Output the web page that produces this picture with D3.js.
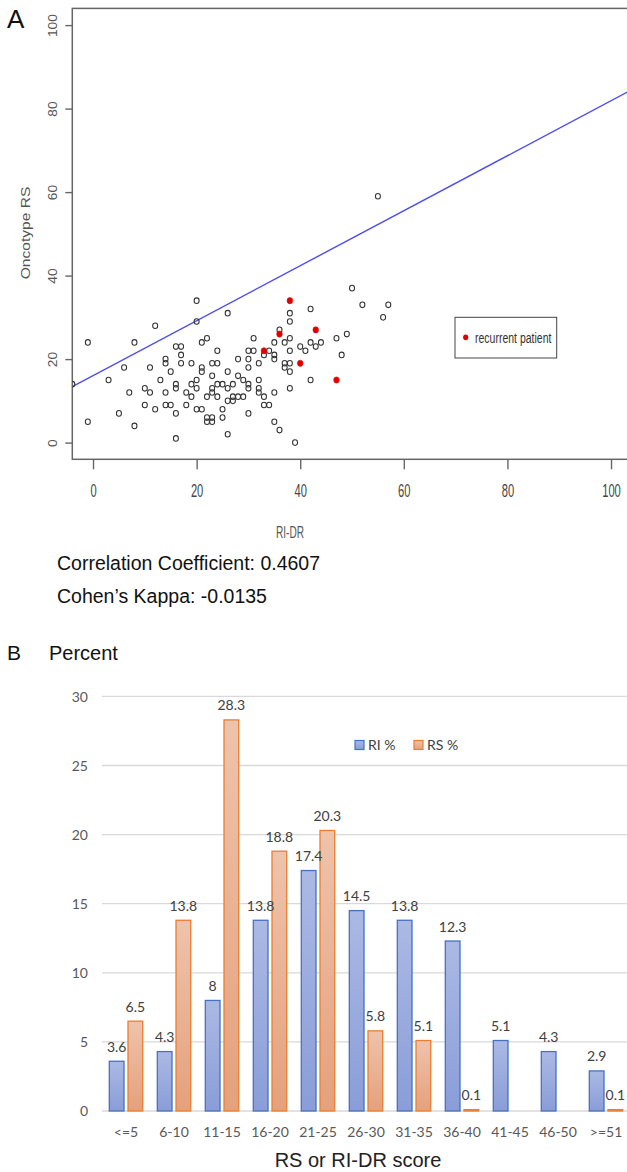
<!DOCTYPE html>
<html><head><meta charset="utf-8">
<script src="https://cdn.jsdelivr.net/npm/d3@7"></script>
<style>
html,body{margin:0;padding:0;background:#fff;}
svg{display:block;}
</style></head>
<body>
<svg id="chart" width="627" height="1172"></svg>
<script>
// ---------- Panel A data ----------
const patientRI = [-4,-1,-1,3,5,6,7,8,8,10,10,11,11,12,12,13,14,14,14,14,15,15,16,16,16,16,16,17,17,17,18,18,19,19,19,20,20,20,20,20,21,21,21,21,22,22,22,22,23,23,23,23,23,23,24,24,24,24,25,25,25,26,26,26,26,26,27,27,27,28,28,28,29,29,30,30,30,30,30,30,31,31,32,32,32,32,33,33,33,34,34,35,35,35,35,35,36,36,37,37,37,38,38,38,38,38,38,38,39,40,41,42,42,42,43,44,47,48,49,50,52,55,56,57];
const patientRS = [14,24,5,15,7,18,12,24,4,13,9,12,18,28,8,15,20,19,12,9,9,17,23,14,13,7,1,23,21,19,12,9,19,14,11,34,29,15,13,8,24,18,17,8,25,11,6,5,19,16,13,12,6,5,22,19,14,11,14,8,6,31,17,13,10,2,14,11,10,20,16,11,15,11,22,20,18,14,13,7,25,22,19,15,13,12,21,11,9,22,9,24,21,20,12,5,27,3,24,19,18,31,29,25,22,19,17,13,0,23,22,32,24,15,23,24,25,21,26,37,33,59,30,33];
const recurrentRI = [33,36,38,40,43,47];
const recurrentRS = [22,26,34,19,27,15];
const fitRI = [-4,104];
const fitRS = [13.4,84.5];
const axisTicksA = [0,20,40,60,80,100];

// ---------- Panel B data ----------
const categories = ["<=5","6-10","11-15","16-20","21-25","26-30","31-35","36-40","41-45","46-50",">=51"];
const riPercent = [3.6,4.3,8,13.8,17.4,14.5,13.8,12.3,5.1,4.3,2.9];
const rsPercent = [6.5,13.8,28.3,18.8,20.3,5.8,5.1,0.1,null,null,0.1];
const seriesNames = ["RI %","RS %"];
const yTicksB = [0,5,10,15,20,25,30];

const svg = d3.select("#chart");
const ARIAL = "'Liberation Sans', Arial, sans-serif";
const LATO = "Lato, 'Open Sans', sans-serif";

// ================= PANEL A =================
const xA = d3.scaleLinear().domain([-4,104]).range([72.3, 72.3 + 108*5.18]);
const yA = d3.scaleLinear().domain([-4,104]).range([459.3, 8.4]);

const defs = svg.append("defs");
defs.append("clipPath").attr("id","plotclip").append("rect")
  .attr("x", xA(-4)).attr("y", yA(104)).attr("width", xA(104)-xA(-4)).attr("height", yA(-4)-yA(104));

const gA = svg.append("g");

const xAxisA = gA.append("g").attr("transform",`translate(0,${yA(-4)})`)
  .call(d3.axisBottom(xA).tickValues(axisTicksA).tickSize(10).tickSizeOuter(0));
xAxisA.select(".domain").remove();
xAxisA.selectAll(".tick line").attr("stroke","#666").attr("stroke-width",1.4);
xAxisA.selectAll(".tick text")
  .attr("y",37.4).attr("dy",null)
  .attr("font-family",ARIAL).attr("font-size",18).attr("fill","#444")
  .attr("transform","scale(0.62,1)");

const yAxisA = gA.append("g").attr("transform",`translate(${xA(-4)},0)`)
  .call(d3.axisLeft(yA).tickValues(axisTicksA).tickSize(7).tickSizeOuter(0));
yAxisA.select(".domain").remove();
yAxisA.selectAll(".tick line").attr("stroke","#666").attr("stroke-width",1.4);
yAxisA.selectAll(".tick text")
  .attr("x",null).attr("dy",null).attr("text-anchor","middle")
  .attr("font-family",ARIAL).attr("font-size",12.5).attr("fill","#555")
  .attr("transform","translate(-15.6,0) rotate(-90) scale(1.1,1)");

gA.append("rect")
  .attr("x", xA(-4)).attr("y", yA(104))
  .attr("width", xA(104)-xA(-4)).attr("height", yA(-4)-yA(104))
  .attr("fill","none").attr("stroke","#666").attr("stroke-width",1.5);

const plot = gA.append("g").attr("clip-path","url(#plotclip)");

plot.append("path")
  .datum(fitRI.map((d,i)=>[d,fitRS[i]]))
  .attr("d", d3.line().x(d=>xA(d[0])).y(d=>yA(d[1])))
  .attr("stroke","#4d4df2").attr("stroke-width",1.4).attr("fill","none");

plot.selectAll("ellipse.pt").data(patientRI.map((d,i)=>[d,patientRS[i]])).join("ellipse")
  .attr("class","pt")
  .attr("cx",d=>xA(d[0])).attr("cy",d=>yA(d[1])).attr("rx",2.5).attr("ry",2.8)
  .attr("fill","none").attr("stroke","#333").attr("stroke-width",1.05);
plot.selectAll("ellipse.rec").data(recurrentRI.map((d,i)=>[d,recurrentRS[i]])).join("ellipse")
  .attr("class","rec")
  .attr("cx",d=>xA(d[0])).attr("cy",d=>yA(d[1])).attr("rx",2.8).attr("ry",3.1)
  .attr("fill","#e00000").attr("stroke","#e00000").attr("stroke-width",0.6);

gA.append("rect").attr("x",455).attr("y",317.3).attr("width",101.7).attr("height",40.7)
  .attr("fill","#fff").attr("stroke","#444").attr("stroke-width",1);
gA.append("ellipse").attr("cx",465.7).attr("cy",337.3).attr("rx",2.6).attr("ry",2.9).attr("fill","#e00000");
gA.append("text").attr("transform","translate(475,343.3) scale(0.7,1)")
  .attr("font-family",ARIAL).attr("font-size",15).attr("fill","#333").text("recurrent patient");

gA.append("text").attr("transform","translate(290,538) scale(0.63,1)")
  .attr("text-anchor","middle").attr("font-family",ARIAL).attr("font-size",16).attr("fill","#555").text("RI-DR");
gA.append("text").attr("transform","translate(29.5,233) rotate(-90) scale(1.3,1)")
  .attr("text-anchor","middle").attr("font-family",ARIAL).attr("font-size",12).attr("fill","#555").text("Oncotype RS");

svg.append("text").attr("x",7).attr("y",28).attr("font-family",ARIAL).attr("font-size",26).attr("fill","#111").text("A");

svg.append("text").attr("x",57).attr("y",570).attr("font-family",ARIAL).attr("font-size",19.5).attr("fill","#111")
  .text("Correlation Coefficient: 0.4607");
svg.append("text").attr("x",57).attr("y",603).attr("font-family",ARIAL).attr("font-size",19.5).attr("fill","#111")
  .text("Cohen\u2019s Kappa: -0.0135");

// ================= PANEL B =================
svg.append("text").attr("x",7).attr("y",660).attr("font-family",ARIAL).attr("font-size",21).attr("fill","#111").text("B");
svg.append("text").attr("x",49).attr("y",660).attr("font-family",ARIAL).attr("font-size",20).attr("fill","#111").text("Percent");

const yB = d3.scaleLinear().domain([0,30]).range([1111, 696.4]);
const x0 = d3.scaleBand().domain(categories).range([102,630]).paddingInner(0).paddingOuter(0);
const x1 = d3.scaleBand().domain(seriesNames).range([7.3, 40.7]).paddingInner(0.214).paddingOuter(0);

const gB = svg.append("g");

gB.selectAll("line.grid").data(yTicksB).join("line")
  .attr("class","grid")
  .attr("x1",102).attr("x2",627)
  .attr("y1",d=>yB(d)).attr("y2",d=>yB(d))
  .attr("stroke","#d9d9d9").attr("stroke-width",1.3);

const yAxisB = gB.append("g").attr("transform","translate(88,0)")
  .call(d3.axisLeft(yB).tickValues(yTicksB).tickSize(0).tickPadding(0));
yAxisB.select(".domain").remove();
yAxisB.selectAll(".tick text").attr("font-family",LATO).attr("font-size",14).attr("fill","#595959")
  .attr("dy","0.35em");

const gradRI = defs.append("linearGradient").attr("id","gradRI").attr("x1",0).attr("y1",0).attr("x2",0).attr("y2",1);
gradRI.append("stop").attr("offset","0%").attr("stop-color","#abb9e4");
gradRI.append("stop").attr("offset","100%").attr("stop-color","#8a9dd8");
const gradRS = defs.append("linearGradient").attr("id","gradRS").attr("x1",0).attr("y1",0).attr("x2",0).attr("y2",1);
gradRS.append("stop").attr("offset","0%").attr("stop-color","#eec3ac");
gradRS.append("stop").attr("offset","100%").attr("stop-color","#e4a17c");

const fills = {"RI %":"url(#gradRI)","RS %":"url(#gradRS)"};
const strokes = {"RI %":"#4472c4","RS %":"#ed7d31"};

const barData = [];
categories.forEach((c,i)=>{
  if (riPercent[i]!=null) barData.push({cat:c,s:"RI %",v:riPercent[i]});
  if (rsPercent[i]!=null) barData.push({cat:c,s:"RS %",v:rsPercent[i]});
});

gB.selectAll("rect.bar").data(barData).join("rect")
  .attr("class","bar")
  .attr("x",d=>x0(d.cat)+x1(d.s)).attr("width",x1.bandwidth())
  .attr("y",d=>yB(d.v)).attr("height",d=>yB(0)-yB(d.v))
  .attr("fill",d=>fills[d.s]).attr("stroke",d=>strokes[d.s]).attr("stroke-width",1.3);

gB.selectAll("text.val").data(barData).join("text")
  .attr("class","val")
  .attr("x",d=>x0(d.cat)+x1(d.s)+x1.bandwidth()/2)
  .attr("y",d=>yB(d.v)-9.5)
  .attr("text-anchor","middle").attr("font-family",LATO).attr("font-size",14).attr("fill","#404040")
  .text(d=>d.v);

const xAxisB = gB.append("g").attr("transform","translate(0,1111)")
  .call(d3.axisBottom(x0).tickSize(0).tickPadding(0));
xAxisB.select(".domain").remove();
xAxisB.selectAll(".tick text").attr("y",26).attr("dy",null)
  .attr("font-family",LATO).attr("font-size",14).attr("fill","#595959");

gB.append("text").attr("x",358).attr("y",1167).attr("text-anchor","middle")
  .attr("font-family",ARIAL).attr("font-size",20).attr("fill","#222").text("RS or RI-DR score");

const legX = [355, 414];
seriesNames.forEach((s,i)=>{
  gB.append("rect").attr("x",legX[i]).attr("y",740.5).attr("width",9).attr("height",9)
    .attr("fill",fills[s]).attr("stroke",strokes[s]).attr("stroke-width",1.2);
  gB.append("text").attr("x",legX[i]+13).attr("y",749.5)
    .attr("font-family",LATO).attr("font-size",14).attr("fill","#404040").text(s);
});
</script>
</body></html>
